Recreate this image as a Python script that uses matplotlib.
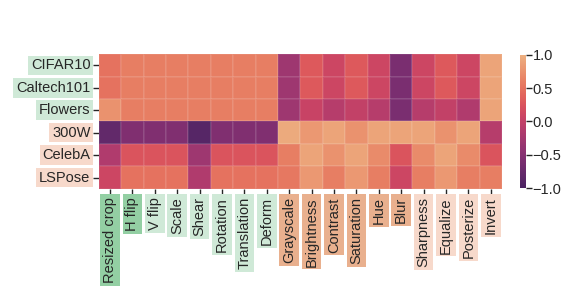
import numpy as np
import seaborn as sns
from matplotlib import pyplot as plt

sns.set_style('ticks')
plt.rcParams['font.family'] = ['Liberation Sans', 'DejaVu Sans']

# datasets (rows) and augmentations (columns)
datasets = ['CIFAR10', 'Caltech101', 'Flowers', '300W', 'CelebA', 'LSPose']
augs = ['Resized crop', 'H flip', 'V flip', 'Scale', 'Shear', 'Rotation',
        'Translation', 'Deform', 'Grayscale', 'Brightness', 'Contrast',
        'Saturation', 'Hue', 'Blur', 'Sharpness', 'Equalize', 'Posterize', 'Invert']

cifar10    = [0.5, 0.6, 0.6, 0.6, 0.6, 0.6, 0.6, 0.6, -0.3, 0.3, 0.1, 0.3, 0.1, -0.6, 0.1, 0.3, 0.1, 0.9]
caltech101 = [0.5, 0.6, 0.6, 0.6, 0.6, 0.6, 0.6, 0.6, -0.3, 0.3, 0.1, 0.3, 0.1, -0.6, 0.1, 0.3, 0.1, 0.9]
flowers    = [0.75, 0.6, 0.6, 0.6, 0.6, 0.6, 0.6, 0.6, -0.3, 0.05, -0.1, 0.0, -0.1, -0.6, -0.1, 0.0, -0.15, 0.9]
w300       = [-0.8, -0.55, -0.55, -0.55, -0.9, -0.55, -0.55, -0.55, 0.95, 0.8, 0.9, 0.75, 0.9, 0.9, 0.9, 0.75, 0.9, -0.1]
celeba     = [-0.15, 0.25, 0.25, 0.25, -0.3, 0.25, 0.25, 0.25, 0.6, 0.9, 0.75, 0.9, 0.7, 0.25, 0.7, 0.9, 0.7, 0.25]
lspose     = [0.1, 0.5, 0.5, 0.5, -0.15, 0.5, 0.5, 0.5, 0.55, 0.8, 0.6, 0.8, 0.6, 0.1, 0.6, 0.8, 0.6, 0.6]

# label background groups
row_groups = ['cls', 'cls', 'cls', 'pose', 'pose', 'pose']
col_groups = ['g1', 'g1', 'g2', 'g2', 'g2', 'g2', 'g2', 'g2',
              'o1', 'o1', 'o1', 'o1', 'o1', 'o1', 'o2', 'o2', 'o2', 'o2']
box_colors = {'cls': '#cfe9d7', 'pose': '#f7d9cb',
              'g1': '#93cfa3', 'g2': '#cfe9d7',
              'o1': '#e9b08e', 'o2': '#f7d9cb'}

data = np.array([cifar10, caltech101, flowers, w300, celeba, lspose])

fig = plt.figure(figsize=(5.81, 2.97), dpi=100)
ax = fig.add_axes([0.170, 0.364, 0.694, 0.454])
cax = fig.add_axes([0.895, 0.367, 0.010, 0.448])

sns.heatmap(data, ax=ax, cbar_ax=cax, cmap='flare_r', vmin=-1, vmax=1,
            xticklabels=augs, yticklabels=datasets,
            linewidths=0.3, linecolor=(1, 1, 1, 0.08))

ax.tick_params(axis='both', length=4, width=1, labelsize=10.5, pad=2)
ax.set_xticklabels(augs, rotation=90, va='top')
ax.set_yticklabels(datasets, rotation=0)
for lab, g in zip(ax.get_yticklabels(), row_groups):
    lab.set_bbox(dict(facecolor=box_colors[g], edgecolor='none', pad=2))
for lab, g in zip(ax.get_xticklabels(), col_groups):
    lab.set_bbox(dict(facecolor=box_colors[g], edgecolor='none', pad=2))

cax.tick_params(labelsize=10.5, length=4, width=1, pad=1)
cax.set_yticks([-1.0, -0.5, 0.0, 0.5, 1.0])
for s in cax.spines.values():
    s.set_visible(False)

fig.savefig('out.png', dpi=100)
